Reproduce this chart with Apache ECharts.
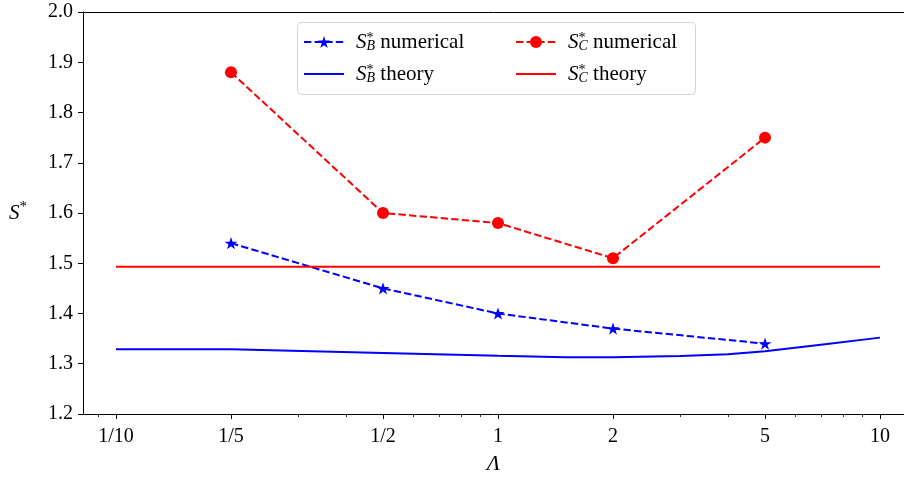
<!DOCTYPE html>
<html>
<head>
<meta charset="utf-8">
<script src="https://cdn.jsdelivr.net/npm/echarts@6/dist/echarts.min.js"></script>
<style>html,body{margin:0;padding:0;background:#fff;}#c{width:904px;height:477px;}</style>
</head>
<body>
<div id="c"></div>
<script>
// ---- data ----
const lambdaNum = [1/5, 1/2, 1, 2, 5];
const sbNumerical = [1.54, 1.45, 1.40, 1.37, 1.34];
const scNumerical = [1.88, 1.60, 1.58, 1.51, 1.75];
const lambdaTheoryB = [0.1, 0.2, 0.5, 1, 1.5, 2, 3, 4, 5, 7, 10];
const sbTheory = [1.329, 1.329, 1.3215, 1.316, 1.313, 1.313, 1.3155, 1.319, 1.325, 1.338, 1.352];
const lambdaTheoryC = [0.1, 10];
const scTheory = [1.493, 1.493];
const xTickValues = [0.1, 0.2, 0.5, 1, 2, 5, 10];
const xTickLabels = ['1/10', '1/5', '1/2', '1', '2', '5', '10'];
const xMinorTicks = [0.09, 0.3, 0.4, 0.6, 0.7, 0.8, 0.9, 3, 4, 6, 7, 8, 9];
const yTicks = [1.2, 1.3, 1.4, 1.5, 1.6, 1.7, 1.8, 1.9, 2.0];

const lx = v => Math.log10(v);
const SERIF = '"Liberation Serif","DejaVu Serif",serif';
const BLUE = '#0000ff', RED = '#ff0000';
const STAR = 'path://M50,0 L61.8,35.1 L98.9,35.1 L68.9,56.7 L80.2,91.9 L50,70 L19.8,91.9 L31.1,56.7 L1.1,35.1 L38.2,35.1 Z';
const XMIN = -1.0864, XMAX = 1.0628;
const TICK_FS = 20, LEG_FS = 21;

const legendInfo = {
  'SB numerical': ['B', 'numerical'],
  'SB theory': ['B', 'theory'],
  'SC numerical': ['C', 'numerical'],
  'SC theory': ['C', 'theory']
};
const legendRich = {
  s: {fontFamily: SERIF, fontStyle: 'italic', fontSize: LEG_FS, color: '#000', padding: [0, 0, 0, 7], lineHeight: 22},
  sup: {fontFamily: SERIF, fontSize: 14, color: '#000', width: 0, align: 'left', verticalAlign: 'top', lineHeight: 15},
  sub: {fontFamily: SERIF, fontStyle: 'italic', fontSize: 14, color: '#000', verticalAlign: 'bottom', lineHeight: 12},
  t: {fontFamily: SERIF, fontSize: LEG_FS, color: '#000', lineHeight: 22}
};
const legendFmt = name => {
  const [sub, txt] = legendInfo[name];
  return '{s|S}{sup|*}{sub|' + sub + '}{t| ' + txt + '}';
};
const legendCommon = {
  orient: 'vertical', top: 31, padding: 0, itemGap: 10, itemWidth: 40, itemHeight: 15,
  formatter: legendFmt, textStyle: {rich: legendRich, lineHeight: 22}, selectedMode: false
};
const hideSym = {opacity: 0};

const chart = echarts.init(document.getElementById('c'), null, {renderer: 'canvas'});
chart.setOption({
  animation: false,
  backgroundColor: '#fff',
  grid: {left: 83, right: 0, top: 12, bottom: 63, show: false, containLabel: false, outerBoundsMode: 'none'},
  graphic: [{
    type: 'rect', left: 297, top: 22, z: 5,
    shape: {width: 398, height: 72, r: 4},
    style: {fill: 'rgba(255,255,255,0.85)', stroke: '#d4d4d4', lineWidth: 1}
  }],
  legend: [
    Object.assign({left: 303, data: ['SB numerical', {name: 'SB theory', itemStyle: hideSym}], z: 10}, legendCommon),
    Object.assign({left: 515, data: ['SC numerical', {name: 'SC theory', itemStyle: hideSym}], z: 10}, legendCommon)
  ],
  xAxis: [{
    type: 'value', min: XMIN, max: XMAX,
    name: 'Λ', nameLocation: 'middle', nameGap: 39,
    nameTextStyle: {fontFamily: SERIF, fontStyle: 'italic', fontSize: 22, color: '#000'},
    axisLine: {show: true, onZero: false, lineStyle: {color: '#000', width: 1}},
    axisTick: {show: true, inside: false, length: 5, customValues: xTickValues.map(lx), lineStyle: {color: '#000', width: 1}},
    axisLabel: {show: true, margin: 13, customValues: xTickValues.map(lx), fontFamily: SERIF, fontSize: TICK_FS, color: '#000',
      formatter: v => { const i = xTickValues.findIndex(t => Math.abs(lx(t) - v) < 1e-6); return i >= 0 ? xTickLabels[i] : ''; }},
    splitLine: {show: false}
  }, {
    type: 'value', min: XMIN, max: XMAX, position: 'bottom',
    axisLine: {show: false, onZero: false},
    axisTick: {show: true, inside: false, length: 3, customValues: xMinorTicks.map(lx), lineStyle: {color: '#000', width: 0.8}},
    axisLabel: {show: false},
    splitLine: {show: false}
  }, {
    type: 'value', min: XMIN, max: XMAX, position: 'top',
    axisLine: {show: true, onZero: false, lineStyle: {color: '#000', width: 1}},
    axisTick: {show: false},
    axisLabel: {show: false},
    splitLine: {show: false}
  }],
  yAxis: {
    type: 'value', min: 1.2, max: 2.0, interval: 0.1,
    name: '{s|S}{sup|*}', nameLocation: 'middle', nameGap: 56, nameRotate: 0,
    nameTextStyle: {rich: {
      s: {fontFamily: SERIF, fontStyle: 'italic', fontSize: 21, color: '#000', lineHeight: 26},
      sup: {fontFamily: SERIF, fontSize: 15, color: '#000', verticalAlign: 'top', lineHeight: 18}
    }},
    axisLine: {show: true, onZero: false, lineStyle: {color: '#000', width: 1}},
    axisTick: {show: true, inside: false, length: 5, lineStyle: {color: '#000', width: 1}},
    axisLabel: {margin: 10, fontFamily: SERIF, fontSize: TICK_FS, color: '#000', formatter: v => v.toFixed(1)},
    splitLine: {show: false}
  },
  series: [
    {
      name: 'SB numerical', type: 'line', xAxisIndex: 0,
      data: lambdaNum.map((v, i) => [lx(v), sbNumerical[i]]),
      symbol: STAR, symbolSize: 13, symbolKeepAspect: true,
      itemStyle: {color: BLUE},
      lineStyle: {color: BLUE, width: 2, type: [7.4, 3.2]}
    },
    {
      name: 'SC numerical', type: 'line', xAxisIndex: 0,
      data: lambdaNum.map((v, i) => [lx(v), scNumerical[i]]),
      symbol: 'circle', symbolSize: 12,
      itemStyle: {color: RED},
      lineStyle: {color: RED, width: 2, type: [7.4, 3.2]}
    },
    {
      name: 'SB theory', type: 'line', xAxisIndex: 0,
      data: lambdaTheoryB.map((v, i) => [lx(v), sbTheory[i]]),
      symbol: 'none', itemStyle: {color: BLUE},
      lineStyle: {color: BLUE, width: 2}
    },
    {
      name: 'SC theory', type: 'line', xAxisIndex: 0,
      data: lambdaTheoryC.map((v, i) => [lx(v), scTheory[i]]),
      symbol: 'none', itemStyle: {color: RED},
      lineStyle: {color: RED, width: 2}
    }
  ]
});
</script>
</body>
</html>
